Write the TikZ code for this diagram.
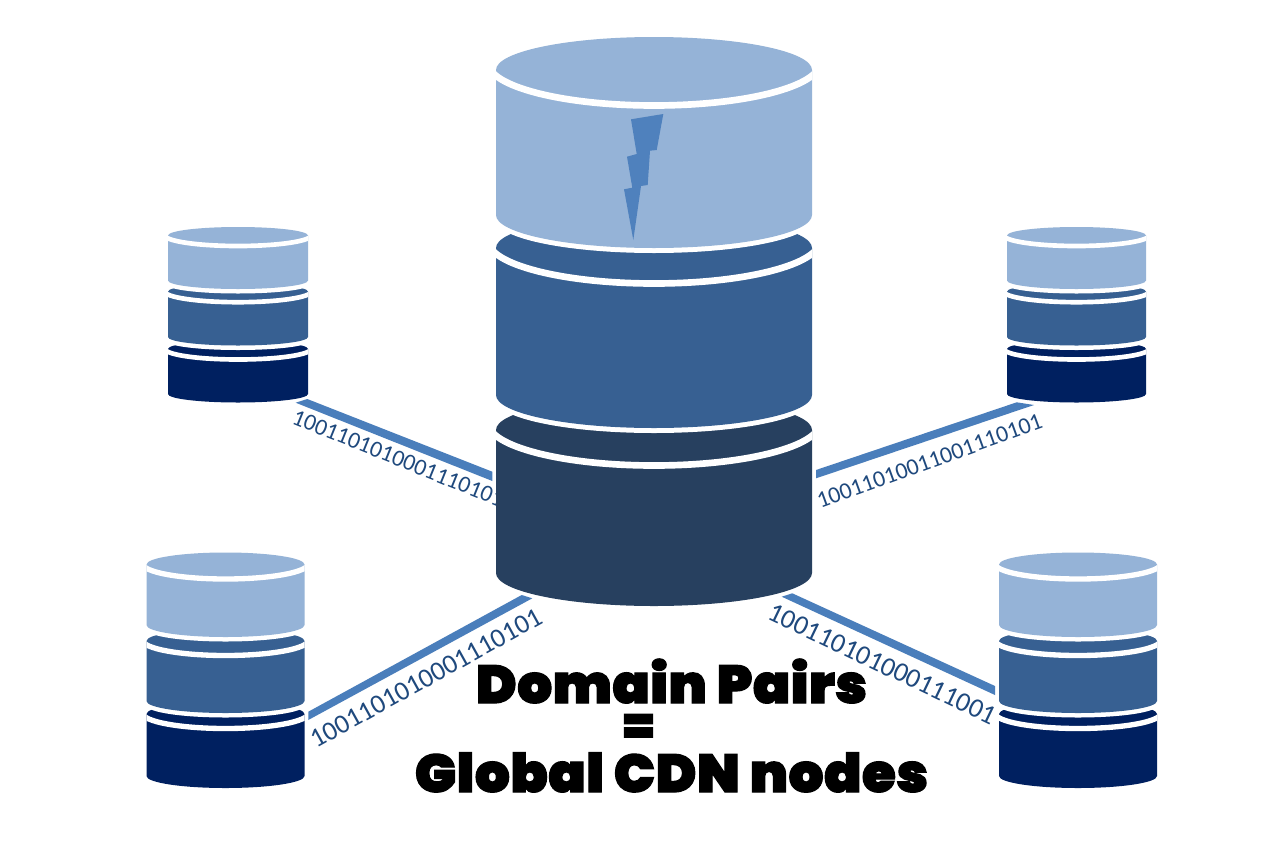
\documentclass[tikz,border=0pt]{standalone}
\usepackage{fontspec}
\usepackage{graphicx}
\setmainfont{Carlito}
\newfontfamily\headfont[UprightFont=* Black,FakeBold=2.2,LetterSpace=1]{Poppins}
\definecolor{lightblue}{HTML}{95B3D7}
\definecolor{midblue}{HTML}{376092}
\definecolor{slateblue}{HTML}{27405F}
\definecolor{navyblue}{HTML}{002060}
\definecolor{linkblue}{HTML}{4A7EBB}
\definecolor{boltblue}{HTML}{4F81BD}
\definecolor{digitblue}{HTML}{1F497D}

% Half ellipses written as Bezier pairs so they stay valid in the flipped y axis.
% Arguments: cx, rx, ry, y of the ellipse centre.
\newcommand{\upperleftright}[4]{(#1-#2,#4) .. controls +(0,-0.5523*#3) and +(-0.5523*#2,0) .. (#1,#4-#3) .. controls +(0.5523*#2,0) and +(0,-0.5523*#3) .. (#1+#2,#4)}
\newcommand{\lowerrightleft}[4]{(#1+#2,#4) .. controls +(0,0.5523*#3) and +(0.5523*#2,0) .. (#1,#4+#3) .. controls +(-0.5523*#2,0) and +(0,0.5523*#3) .. (#1-#2,#4)}

% Shape of the white band under a disk's cap, set per stack size:
% extra half width, vertical radius.
\newcommand{\bandx}{0}
\newcommand{\bandr}{0}

% One disk of a stack: cx, rx, ry, cap centre y, side bottom y, colour,
% halo depth, band offset, band width.
\newcommand{\disk}[9]{%
  \fill[white] \upperleftright{#1}{#2}{#3}{#4+#7} -- \lowerrightleft{#1}{#2}{#3}{#5+#7} -- cycle;
  \fill[#6] \upperleftright{#1}{#2}{#3}{#4} -- \lowerrightleft{#1}{#2}{#3}{#5} -- cycle;
  \begin{scope}
    \clip (#1-#2,#4-#3) rectangle (#1+#2,#5);
    \pgfmathsetmacro{\bandhalf}{#2+\bandx}
    \draw[white,line width=#9] \lowerrightleft{#1}{\bandhalf}{\bandr}{#4+#8};
  \end{scope}
}

\begin{document}
\begin{tikzpicture}[x=0.75pt,y=-0.75pt,
  digits/.style={anchor=base west,inner sep=0pt,text=digitblue},
  link/.style={fill=linkblue},
  headline/.style={inner sep=0pt,text=black,font=\headfont}]
\useasboundingbox (0,0) rectangle (1280,853);
\fill[white] (0,0) rectangle (1280,853);

% Bit strings along the links
\node[digits,rotate=-22,font=\fontsize{17.6pt}{20pt}\selectfont] (bitsUL) at (290.5,423) {1001101010001110101};
\node[digits,rotate=20,font=\fontsize{17.6pt}{20pt}\selectfont] (bitsUR) at (820,509) {10011010011001110101};
\node[digits,rotate=29,font=\fontsize{20.3pt}{24pt}\selectfont] (bitsLL) at (316,749) {1001101010001110101};
\node[digits,rotate=-25.6,font=\fontsize{20.5pt}{24pt}\selectfont] (bitsLR) at (766,618) {100110101000111001};

% Tapered links between the central stack and the four outer stacks
\coordinate (ulA) at (295.7,402.7); \coordinate (ulB) at (307.3,399);
\coordinate (ulC) at (492.3,471.7); \coordinate (ulD) at (492.3,481);
\coordinate (urA) at (816,470);     \coordinate (urB) at (816,478.3);
\coordinate (urC) at (1034,405);    \coordinate (urD) at (1016.7,402.3);
\coordinate (llA) at (308.3,711.7); \coordinate (llB) at (308.3,720);
\coordinate (llC) at (532.3,598.3); \coordinate (llD) at (521.7,595);
\coordinate (lrA) at (781.7,596.7); \coordinate (lrB) at (792.3,593.3);
\coordinate (lrC) at (995,686);     \coordinate (lrD) at (995,695);
\fill[link] (ulA) -- (ulB) -- (ulC) -- (ulD) -- cycle;
\fill[link] (urA) -- (urB) -- (urC) -- (urD) -- cycle;
\fill[link] (llA) -- (llB) -- (llC) -- (llD) -- cycle;
\fill[link] (lrA) -- (lrB) -- (lrC) -- (lrD) -- cycle;

% Central stack, lowest disk first
\renewcommand{\bandx}{8}\renewcommand{\bandr}{43}
\disk{654}{158}{33}{430}{573}{slateblue}{0}{-7.5}{5pt}
\disk{654}{158}{33}{248}{395}{midblue}{5}{-7.5}{5pt}
\disk{654}{158}{33}{70}{215}{lightblue}{5}{-7.5}{5pt}
\fill[boltblue] (631,119.3) -- (663.3,114) -- (656.7,150) -- (650,150.7) -- (647.7,185) -- (641,186)
  -- (633.3,240) -- (624,189.3) -- (632.3,187.7) -- (627,156.7) -- (636.7,154) -- cycle;

% Upper outer stacks
\renewcommand{\bandx}{3.5}\renewcommand{\bandr}{11}
\disk{238}{70}{8.5}{349}{394}{navyblue}{0}{-0.5}{3.5pt}
\disk{238}{70}{8.5}{291.7}{337}{midblue}{4.5}{-0.5}{3.5pt}
\disk{238}{70}{8.5}{235.5}{280.5}{lightblue}{4.5}{-0.5}{3.5pt}
\disk{1076.5}{69.5}{8.5}{349}{394}{navyblue}{0}{-0.5}{3.5pt}
\disk{1076.5}{69.5}{8.5}{291.7}{337}{midblue}{4.5}{-0.5}{3.5pt}
\disk{1076.5}{69.5}{8.5}{235.5}{280.5}{lightblue}{4.5}{-0.5}{3.5pt}

% Lower outer stacks
\renewcommand{\bandx}{4}\renewcommand{\bandr}{15.5}
\disk{225.5}{79}{12}{714}{776}{navyblue}{0}{-1}{4pt}
\disk{225.5}{79}{12}{641}{701}{midblue}{4.5}{-1}{4pt}
\disk{225.5}{79}{12}{564.5}{625}{lightblue}{4.5}{-1}{4pt}
\disk{1078}{79}{12}{714}{776}{navyblue}{0}{-1}{4pt}
\disk{1078}{79}{12}{641}{701}{midblue}{4.5}{-1}{4pt}
\disk{1078}{79}{12}{564.5}{625}{lightblue}{4.5}{-1}{4pt}

% Caption
\node[headline,anchor=base] (capA) at (671.5,703) {\scalebox{1.03}[1]{\fontsize{40pt}{44pt}\selectfont Domain Pairs}};
\node[headline,anchor=base] (capB) at (638.5,742) {\fontsize{36pt}{44pt}\selectfont =};
\node[headline,anchor=base] (capC) at (671.5,792) {\scalebox{1.03}[1]{\fontsize{40pt}{44pt}\selectfont Global CDN nodes}};
\end{tikzpicture}
\end{document}
